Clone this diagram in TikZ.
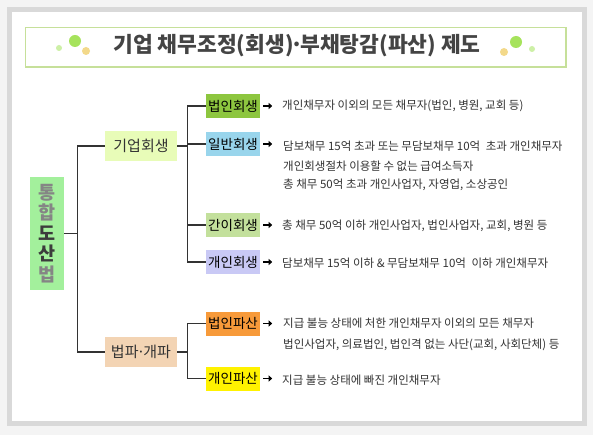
\documentclass[tikz,border=0pt]{standalone}
\usepackage{fontspec}
\setmainfont{Noto Sans CJK KR}
\usetikzlibrary{arrows.meta}
\definecolor{bgout}{HTML}{F4F4F4}
\definecolor{frame}{HTML}{D9D9D9}
\definecolor{titleline}{HTML}{C6E09A}
\definecolor{titletext}{HTML}{444444}
\definecolor{dotg}{HTML}{A6E35C}
\definecolor{dotlg}{HTML}{CDF0A6}
\definecolor{doty}{HTML}{F3D98A}
\definecolor{rootfill}{HTML}{A3F09C}
\definecolor{rootgray}{HTML}{858585}
\definecolor{rootdark}{HTML}{3C3C3C}
\definecolor{kfill}{HTML}{E8FCB8}
\definecolor{pfill}{HTML}{F3D4B4}
\definecolor{c1}{HTML}{8DC63F}
\definecolor{c2}{HTML}{99D5EC}
\definecolor{c3}{HTML}{C3E09C}
\definecolor{c4}{HTML}{C9C9F5}
\definecolor{c5}{HTML}{F79A3A}
\definecolor{c6}{HTML}{FFF200}
\definecolor{linec}{HTML}{333333}
\definecolor{txt}{HTML}{333333}
\newcommand{\tightdot}{\kern-0.12em·\kern-0.12em}
\tikzset{
  conn/.style={draw=linec, line width=1.4pt},
  lvone/.style={minimum width=72pt, minimum height=30pt, inner sep=0pt, font=\fontsize{15}{17}\selectfont, text=txt},
  lvtwo/.style={minimum width=54pt, minimum height=24pt, inner sep=0pt, font=\fontsize{13.5}{15}\selectfont, text=black},
  desc/.style={anchor=west, inner sep=0pt, font=\fontsize{11.5}{13}\selectfont, text=txt},
  pointer/.style={draw=black, line width=1.8pt, -{Triangle[length=3.5pt,width=6pt]}}
}
\begin{document}
\begin{tikzpicture}[x=1pt,y=-1pt]
\useasboundingbox (0,0) rectangle (593,435);
\fill[bgout] (0,0) rectangle (593,435);
\fill[frame] (7,7) rectangle (587,426);
\fill[white] (11.5,12) rectangle (582,421);
% title
\draw[titleline, line width=1.3pt] (25.5,27.5) rectangle (566,67);
\fill[dotlg] (59,48) circle (3);
\fill[dotg] (75,41) circle (6);
\fill[doty] (86,51) circle (4);
\fill[doty] (504,52) circle (4);
\fill[dotg] (516,42) circle (6);
\fill[dotlg] (532,49) circle (3);
\node[font=\bfseries\fontsize{21.5}{23}\selectfont, text=titletext, inner sep=0pt] (title) at (297,46) {기업 채무조정(회생)\kern-0.15em·\kern-0.15em부채탕감(파산) 제도};
% root
\node[fill=rootfill, minimum width=34pt, minimum height=113pt, inner sep=0pt, align=center,
  font=\bfseries\fontsize{18.5}{20.5}\selectfont] (root) at (47,233.5)
  {\textcolor{rootgray}{통}\\\textcolor{rootgray}{합}\\\textcolor{rootdark}{도}\\\textcolor{rootdark}{산}\\\textcolor{rootgray}{법}};
% level one
\node[lvone, fill=kfill] (k1) at (141,146) {기업회생};
\node[lvone, fill=pfill] (k2) at (141,352) {법파\tightdot 개파};
% level two
\node[lvtwo, fill=c1] (s1) at (233,106) {법인회생};
\node[lvtwo, fill=c2] (s2) at (233,144) {일반회생};
\node[lvtwo, fill=c3] (s3) at (233,225) {간이회생};
\node[lvtwo, fill=c4] (s4) at (233,262) {개인회생};
\node[lvtwo, fill=c5] (s5) at (233,323.5) {법인파산};
\node[lvtwo, fill=c6] (s6) at (233,378.5) {개인파산};
% connectors
\draw[conn] (root.east) -- ++(13,0) |- (k1.west);
\draw[conn] (root.east) -- ++(13,0) |- (k2.west);
\draw[conn] (k1.east) -- ++(10,0) |- (s1.west);
\draw[conn] (k1.east) -- ++(10,0) |- (s2.west);
\draw[conn] (k1.east) -- ++(10,0) |- (s3.west);
\draw[conn] (k1.east) -- ++(10,0) |- (s4.west);
\draw[conn] (k2.east) -- ++(10,0) |- (s5.west);
\draw[conn] (k2.east) -- ++(10,0) |- (s6.west);
% pointers
\foreach \n in {s1,s2,s3,s4,s5,s6}{
  \draw[pointer] ([xshift=3pt]\n.east) -- ++(9,0);
}
% descriptions
\node[desc] (d1) at (282,106) {개인채무자 이외의 모든 채무자(법인, 병원, 교회 등)};
\node[desc] (d2a) at (283,146) {담보채무 15억 초과 또는 무담보채무 10억\hspace{3pt} 초과 개인채무자};
\node[desc] (d2b) at (283,166) {개인회생절차 이용할 수 없는 급여소득자};
\node[desc] (d2c) at (283,185) {총 채무 50억 초과 개인사업자, 자영업, 소상공인};
\node[desc] (d3) at (282,226) {총 채무 50억 이하 개인사업자, 법인사업자, 교회, 병원 등};
\node[desc] (d4) at (282,263) {담보채무 15억 이하 \& 무담보채무 10억\hspace{3pt} 이하 개인채무자};
\node[desc] (d5a) at (283,323) {지급 불능 상태에 처한 개인채무자 이외의 모든 채무자};
\node[desc] (d5b) at (283,345) {법인사업자, 의료법인, 법인격 없는 사단(교회, 사회단체) 등};
\node[desc] (d6) at (282,380) {지급 불능 상태에 빠진 개인채무자};
\end{tikzpicture}
\end{document}
